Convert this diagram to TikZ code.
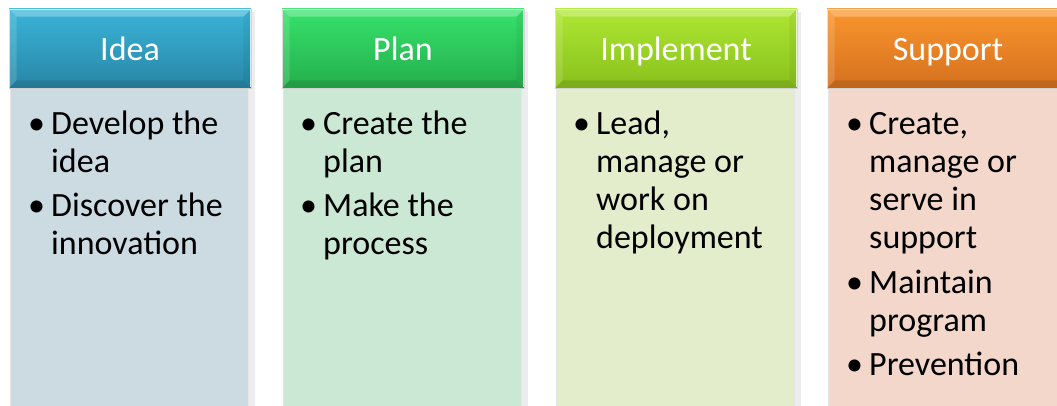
\documentclass[tikz,border=0pt]{standalone}
\usepackage{fontspec}
\setmainfont{Carlito}
\usetikzlibrary{calc}

% header gradients (top / bottom) and body tints
\definecolor{ideaTop}{HTML}{3AB4D8}
\definecolor{ideaBot}{HTML}{2886A6}
\definecolor{ideaBody}{HTML}{CCDBE2}
\definecolor{planTop}{HTML}{36E26C}
\definecolor{planBot}{HTML}{25AE4C}
\definecolor{planBody}{HTML}{CBE8D4}
\definecolor{implTop}{HTML}{AEE832}
\definecolor{implBot}{HTML}{88C01C}
\definecolor{implBody}{HTML}{E4EDCB}
\definecolor{suppTop}{HTML}{FA962E}
\definecolor{suppBot}{HTML}{D5701E}
\definecolor{suppBody}{HTML}{F2D7CA}

% bullet with hanging indent
\newcommand\bulitem[1]{\makebox[23pt][l]{\textbullet}\parbox[t]{210pt}{\raggedright #1}}

\tikzset{
  header/.style={draw=white!70!gray, line width=0.6pt, minimum width=242pt,
    minimum height=79pt, inner sep=0pt, text=white, text height=24pt, text depth=0pt,
    font=\fontsize{34}{38}\selectfont},
  body/.style={draw=white!80!gray, line width=0.6pt, minimum width=238pt,
    minimum height=330pt, inner sep=0pt},
  item/.style={anchor=base west, inner sep=0pt, text=black,
    font=\fontsize{34}{38}\selectfont},
}

% bevel on a header node
\newcommand\bevel[1]{%
  \fill[white, opacity=0.28] (#1.north west) -- (#1.north east)
     -- ($(#1.north east)+(-8,8)$) -- ($(#1.north west)+(8,8)$) -- cycle;
  \fill[white, opacity=0.14] (#1.north west) -- ($(#1.north west)+(8,8)$)
     -- ($(#1.south west)+(8,-8)$) -- (#1.south west) -- cycle;
  \fill[black, opacity=0.10] (#1.south west) -- ($(#1.south west)+(8,-8)$)
     -- ($(#1.south east)+(-8,-8)$) -- (#1.south east) -- cycle;
  \fill[black, opacity=0.05] (#1.north east) -- (#1.south east)
     -- ($(#1.south east)+(-8,-8)$) -- ($(#1.north east)+(-8,8)$) -- cycle;
  \draw[white, opacity=0.8, line width=1pt] ($(#1.north east)+(-1,1)$) -- ($(#1.south east)+(-1,-1)$);
}

\begin{document}
\begin{tikzpicture}[x=1pt, y=-1pt]
\useasboundingbox (0,0) rectangle (1057,406);
\clip (0,0) rectangle (1057,406);

% soft shadows to the right of the columns
\foreach \cx in {9,282,555,827}{
  \fill[black, opacity=0.07] (\cx+240,12) rectangle (\cx+246,420);
}

% ---- Idea ----
\node[body, fill=ideaBody] (b1) at (129,253) {};
\node[header, top color=ideaTop, bottom color=ideaBot] (h1) at (130,48.5) {Idea};
\bevel{h1}
\node[item] (i1a) at (28,135) {\bulitem{Develop the\\idea}};
\node[item] (i1b) at (28,217) {\bulitem{Discover the\\innovation}};

% ---- Plan ----
\node[body, fill=planBody] (b2) at (402,253) {};
\node[header, top color=planTop, bottom color=planBot] (h2) at (403,48.5) {Plan};
\bevel{h2}
\node[item] (i2a) at (300,135) {\bulitem{Create the\\plan}};
\node[item] (i2b) at (300,217) {\bulitem{Make the\\process}};

% ---- Implement ----
\node[body, fill=implBody] (b3) at (675,253) {};
\node[header, top color=implTop, bottom color=implBot] (h3) at (676,48.5) {Implement};
\bevel{h3}
\node[item] (i3a) at (573,135) {\bulitem{Lead,\\manage or\\work on\\deployment}};

% ---- Support ----
\node[body, fill=suppBody] (b4) at (947,253) {};
\node[header, top color=suppTop, bottom color=suppBot] (h4) at (948,48.5) {Support};
\bevel{h4}
\node[item] (i4a) at (846,135) {\bulitem{Create,\\manage or\\serve in\\support}};
\node[item] (i4b) at (846,293) {\bulitem{Maintain\\program}};
\node[item] (i4c) at (846,375) {\bulitem{Prevention}};
\end{tikzpicture}
\end{document}
